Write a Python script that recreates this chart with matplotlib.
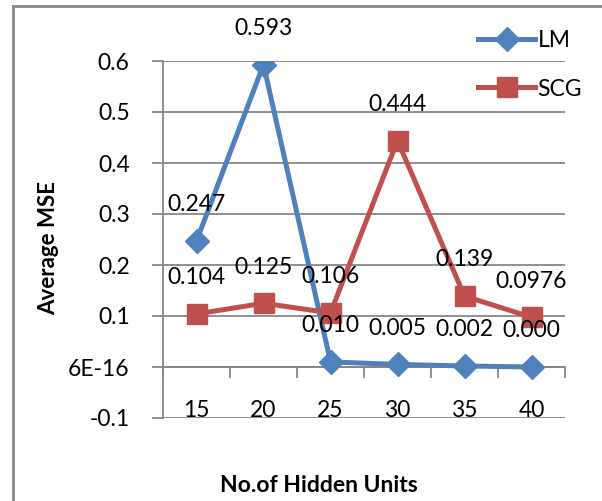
import numpy as np
import matplotlib.pyplot as plt
from matplotlib.lines import Line2D

plt.rcParams['font.family'] = ['Lato', 'DejaVu Sans']

hidden_units = ['15', '20', '25', '30', '35', '40']
lm_mse = [0.247, 0.593, 0.010, 0.005, 0.002, 0.000]
scg_mse = [0.104, 0.125, 0.106, 0.444, 0.139, 0.0976]
lm_labels = ['0.247', '0.593', '0.010', '0.005', '0.002', '0.000']
scg_labels = ['0.104', '0.125', '0.106', '0.444', '0.139', '0.0976']
y_ticks = [-0.1, 0.0, 0.1, 0.2, 0.3, 0.4, 0.5, 0.6]
y_tick_labels = ['-0.1', '6E-16', '0.1', '0.2', '0.3', '0.4', '0.5', '0.6']

blue = '#4F81BD'
red = '#C0504D'
grid = '#878787'

fig = plt.figure(figsize=(6.02, 5.01), dpi=100)
ax = fig.add_axes([163 / 602, 1 - 418 / 501, (565 - 163) / 602, (418 - 61) / 501])

x = np.arange(1, len(hidden_units) + 1)

ax.plot(x, lm_mse, color=blue, lw=3.6, marker='D', ms=12, label='LM', zorder=3)
ax.plot(x, scg_mse, color=red, lw=3.6, marker='s', ms=14, label='SCG', zorder=3)

for xi, v, s in zip(x, lm_mse, lm_labels):
    ax.annotate(s, (xi, v), xytext=(0, 26), textcoords='offset points',
                ha='center', va='center', fontsize=16.5, color='black')
for xi, v, s in zip(x, scg_mse, scg_labels):
    ax.annotate(s, (xi, v), xytext=(0, 26), textcoords='offset points',
                ha='center', va='center', fontsize=16.5, color='black')

ax.set_xlim(0.5, len(hidden_units) + 0.5)
ax.set_ylim(-0.1, 0.6)
ax.set_yticks(y_ticks)
ax.set_yticklabels(y_tick_labels)
ax.yaxis.grid(True, color=grid, lw=1.3)
ax.set_axisbelow(True)
ax.tick_params(axis='y', length=8, width=1.3, color=grid, pad=16, labelsize=16.5)

# category axis sits on y = 0, with ticks between the categories
ax.spines['bottom'].set_position(('data', 0))
ax.spines['bottom'].set_color(grid)
ax.spines['bottom'].set_linewidth(1.3)
ax.set_xticks(np.arange(0.5, len(hidden_units) + 1, 1.0))
ax.tick_params(axis='x', length=8, width=1.3, color=grid, labelbottom=False)
for xi, s in zip(x, hidden_units):
    ax.text(xi, -0.098, s, ha='center', va='baseline', fontsize=16.5)

ax.spines['left'].set_color(grid)
ax.spines['left'].set_linewidth(1.3)
ax.spines['top'].set_visible(False)
ax.spines['right'].set_visible(False)

fig.text(49 / 602, 1 - 248 / 501, 'Average MSE', rotation=90, ha='center', va='center',
         fontsize=16, fontweight='bold')
fig.text(319 / 602, 1 - 485 / 501, 'No.of Hidden Units', ha='center', va='center',
         fontsize=16.5, fontweight='bold')

ax.legend(loc='upper left', bbox_to_anchor=(478 / 602, 1 - 30 / 501), bbox_transform=fig.transFigure,
          frameon=False, fontsize=16.5, handlelength=2.5, handletextpad=0.1, labelspacing=1.2,
          borderaxespad=0, borderpad=0)

# outer chart border
fig.add_artist(Line2D([13 / 602, 13 / 602], [0, 1 - 6 / 501], color='#888888', lw=2))
fig.add_artist(Line2D([13 / 602, 1], [1 - 6 / 501, 1 - 6 / 501], color='#888888', lw=2))

fig.savefig('out.png', dpi=100)
